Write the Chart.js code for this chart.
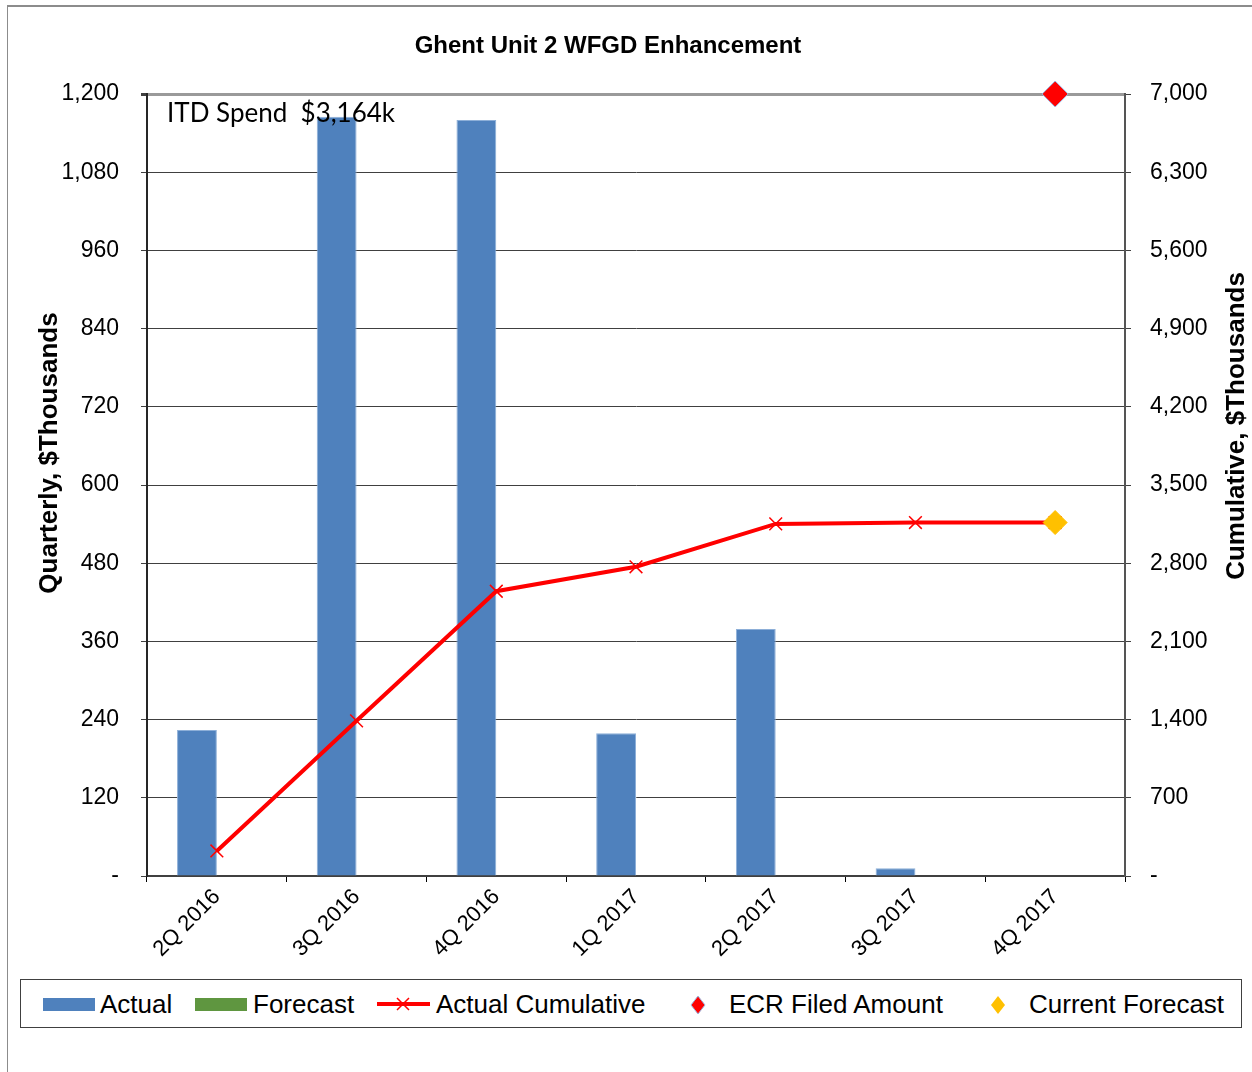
<!DOCTYPE html>
<html>
<head>
<meta charset="utf-8">
<script src="https://cdn.jsdelivr.net/npm/chart.js@4.4.1/dist/chart.umd.min.js"></script>
<style>
  html, body { margin: 0; padding: 0; background: #fff; }
  body { width: 1252px; height: 1072px; position: relative; overflow: hidden; font-family: Arial, "Liberation Sans", sans-serif; }
  #frame { position: absolute; left: 7px; top: 5px; width: 1260px; height: 1080px; border-left: 1px solid #8c8c8c; border-top: 2px solid #8c8c8c; box-sizing: border-box; }
  #wrap { position: absolute; left: 0; top: 0; width: 1252px; height: 1072px; }
  #legend { position: absolute; left: 20px; top: 979px; width: 1222px; height: 49px; border: 1px solid #404040; box-sizing: border-box; background: #fff; }
  .lg { position: absolute; }
  .txt { font-size: 26px; line-height: 26px; top: 11px; color: #000; white-space: nowrap; }
</style>
</head>
<body>
<div id="frame"></div>
<div id="wrap"><canvas id="c" width="1252" height="1072"></canvas></div>
<div id="legend">
  <div class="lg" style="left:22px;top:18px;width:52px;height:13px;background:#4F81BD"></div>
  <div class="lg txt" style="left:79px">Actual</div>
  <div class="lg" style="left:174px;top:18px;width:52px;height:13px;background:#5F9640"></div>
  <div class="lg txt" style="left:232px">Forecast</div>
  <div class="lg" style="left:356px;top:22px;width:53px;height:4px;background:#FF0000"></div>
  <svg class="lg" style="left:375px;top:17px" width="14" height="14"><path d="M1 1 L13 13 M13 1 L1 13" stroke="#FF0000" stroke-width="1.5"/></svg>
  <div class="lg txt" style="left:415px">Actual Cumulative</div>
  <svg class="lg" style="left:669px;top:15px" width="16" height="20"><path d="M8 1 L15 10 L8 19 L1 10 Z" fill="#FF0000" stroke="#9db7e0" stroke-width="1"/></svg>
  <div class="lg txt" style="left:708px">ECR Filed Amount</div>
  <svg class="lg" style="left:969px;top:15px" width="16" height="20"><path d="M8 1 L15 10 L8 19 L1 10 Z" fill="#FFC000"/></svg>
  <div class="lg txt" style="left:1008px">Current Forecast</div>
</div>
<script>
// ---- data ----
const categories = ['2Q 2016', '3Q 2016', '4Q 2016', '1Q 2017', '2Q 2017', '3Q 2017', '4Q 2017'];
const actual = [224, 1165, 1160, 219, 379, 12, null];
const forecast = [null, null, null, null, null, null, null];
const actualCumulative = [224, 1389, 2549, 2768, 3152, 3164, 3164];
const ecrFiledAmount = [null, null, null, null, null, null, 7000];
const currentForecast = [null, null, null, null, null, null, 3164];
const leftAxisMax = 1200;
const leftAxisStep = 120;
const rightAxisMax = 7000;
const rightAxisStep = 700;
const chartTitle = 'Ghent Unit 2 WFGD Enhancement';
const leftAxisTitle = 'Quarterly, $Thousands';
const rightAxisTitle = 'Cumulative, $Thousands';
const itdNote = 'ITD Spend  $3,164k';

const FONT = 'Arial, "Liberation Sans", sans-serif';
Chart.defaults.font.family = FONT;
Chart.defaults.color = '#000';

function fmt(v) { return v === 0 ? '-' : Number(v).toLocaleString('en-US'); }

const textPlugin = {
  id: 'texts',
  afterDatasetsDraw(chart) {
    const ctx = chart.ctx;
    const a = chart.chartArea;
    ctx.save();
    ctx.fillStyle = '#000';
    ctx.font = '26px Lato, "Open Sans", sans-serif';
    ctx.textAlign = 'left';
    ctx.textBaseline = 'alphabetic';
    ctx.fillText(itdNote, a.left + 20, a.top + 28);
    ctx.restore();
  },
  afterDraw(chart) {
    const ctx = chart.ctx;
    ctx.save();
    ctx.fillStyle = '#000';
    ctx.textAlign = 'center';
    ctx.textBaseline = 'middle';
    ctx.font = 'bold 24px ' + FONT;
    ctx.fillText(chartTitle, 608, 46);
    ctx.font = 'bold 26px ' + FONT;
    ctx.save();
    ctx.translate(50, 453);
    ctx.rotate(-Math.PI / 2);
    ctx.fillText(leftAxisTitle, 0, 0);
    ctx.restore();
    ctx.save();
    ctx.translate(1237, 426);
    ctx.rotate(-Math.PI / 2);
    ctx.fillText(rightAxisTitle, 0, 0);
    ctx.restore();
    ctx.restore();
  }
};

new Chart(document.getElementById('c'), {
  type: 'bar',
  data: {
    labels: categories,
    datasets: [
      { type: 'bar', label: 'Actual', data: actual, yAxisID: 'y', backgroundColor: '#4F81BD', borderColor: '#8DAFD8', borderWidth: 1, order: 2,
        categoryPercentage: 0.57, barPercentage: 1.0 },
      { type: 'bar', label: 'Forecast', data: forecast, yAxisID: 'y', backgroundColor: '#5F9640', order: 2,
        categoryPercentage: 0.57, barPercentage: 1.0 },
      { type: 'line', label: 'Actual Cumulative', data: actualCumulative, yAxisID: 'y2', borderColor: '#FF0000', backgroundColor: '#FF0000',
        borderWidth: 4, pointStyle: 'crossRot', pointRadius: 9, pointBorderWidth: 1.5, pointBorderColor: '#FF0000', order: 1 },
      { type: 'line', label: 'ECR Filed Amount', data: ecrFiledAmount, yAxisID: 'y2', showLine: false, pointStyle: 'rectRot', pointRadius: 13,
        backgroundColor: '#FF0000', borderColor: '#9DB7E0', pointBorderWidth: 1, order: 0, clip: false },
      { type: 'line', label: 'Current Forecast', data: currentForecast, yAxisID: 'y2', showLine: false, pointStyle: 'rectRot', pointRadius: 12,
        backgroundColor: '#FFC000', borderColor: '#FFC000', pointBorderWidth: 1, order: 0, clip: false }
    ]
  },
  options: {
    responsive: false,
    animation: false,
    events: [],
    layout: { padding: { top: 94, left: 0, right: 0, bottom: 0 } },
    plugins: { legend: { display: false }, tooltip: { enabled: false }, title: { display: false } },
    scales: {
      x: {
        offset: true,
        grid: { offset: true, drawOnChartArea: false, drawTicks: true, tickLength: 6, tickColor: '#000', tickWidth: 1 },
        border: { display: true, color: '#404040', width: 2 },
        ticks: { minRotation: 45, maxRotation: 45, padding: 2, font: { size: 22 }, color: '#000', autoSkip: false },
        afterFit(s) { s.height = 196; }
      },
      y: {
        position: 'left',
        min: 0, max: leftAxisMax,
        ticks: { stepSize: leftAxisStep, padding: 22, font: { size: 23 }, color: '#000', callback: v => fmt(v) },
        grid: {
          color: c => (c.tick && c.tick.value === leftAxisMax) ? '#9a9a9a' : '#404040',
          lineWidth: c => (c.tick && c.tick.value === leftAxisMax) ? 3 : 1,
          tickLength: 6, tickColor: '#404040', drawTicks: true
        },
        border: { display: true, color: '#262626', width: 2 },
        afterFit(s) { s.width = 147; }
      },
      y2: {
        position: 'right',
        min: 0, max: rightAxisMax,
        ticks: { stepSize: rightAxisStep, padding: 19, font: { size: 23 }, color: '#000', callback: v => fmt(v) },
        grid: { drawOnChartArea: false, drawTicks: true, tickLength: 6, tickColor: '#404040' },
        border: { display: true, color: '#555555', width: 2 },
        afterFit(s) { s.width = 127; }
      }
    }
  },
  plugins: [textPlugin]
});
</script>
</body>
</html>
